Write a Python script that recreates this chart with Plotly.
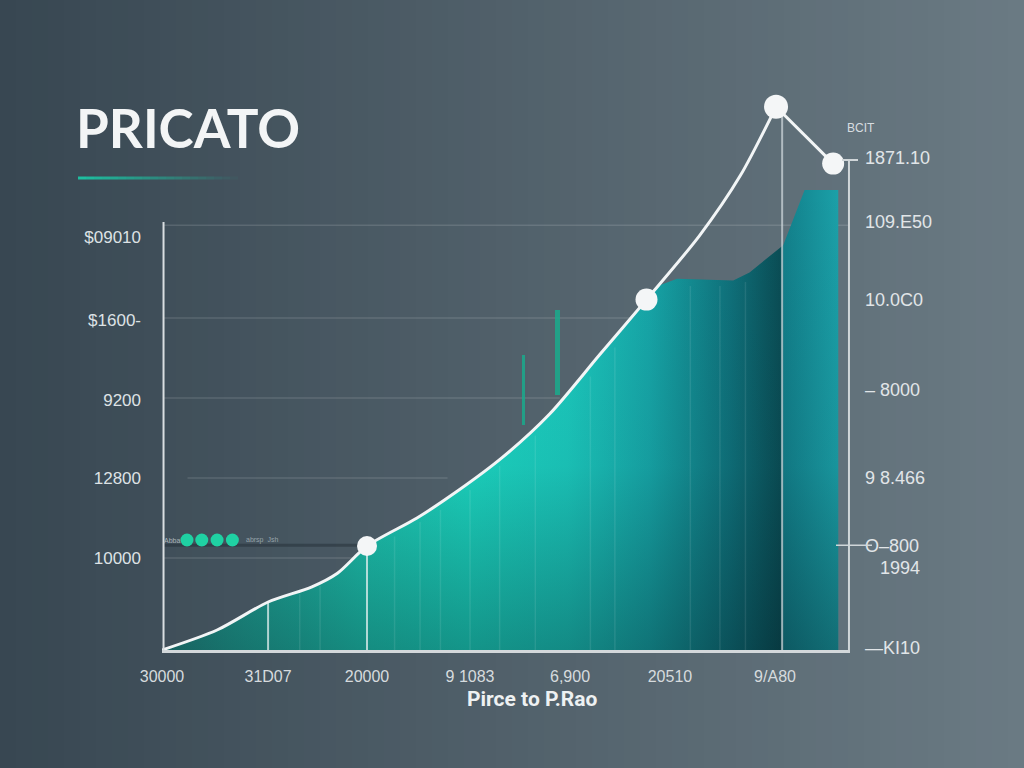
import plotly.graph_objects as go

W, H = 1024, 768
L, R, T, B = 162, 174, 90, 118
PW, PH = W - L - R, H - T - B

# ---------------------------------------------------------------------------
# Data (x: one unit per bottom label step, y: one unit per left label band)
# ---------------------------------------------------------------------------
curve_x = [0, 0.54, 1.04, 1.47, 1.72, 2.01, 2.5, 2.89, 3.34, 3.8, 4.29, 4.75, 5.27, 5.67, 6.02]
curve_y = [0, 0.25, 0.6, 0.79, 0.96, 1.3, 1.65, 1.98, 2.41, 2.95, 3.69, 4.38, 5.18, 5.93, 6.79]
tail_x = [6.02, 6.58]
tail_y = [6.79, 6.08]

dot_x = [2.01, 4.75, 6.02, 6.58]
dot_y = [1.3, 4.38, 6.79, 6.08]

area_x = [0, 0.54, 1.04, 1.47, 1.72, 2.01, 2.5, 2.89, 3.34, 3.8, 4.29, 4.75,
          4.88, 5.05, 5.6, 5.76, 6.09, 6.3, 6.63, 6.63]
area_y = [0, 0.25, 0.6, 0.79, 0.96, 1.3, 1.65, 1.98, 2.41, 2.95, 3.69, 4.38,
          4.56, 4.64, 4.62, 4.72, 5.06, 5.75, 5.75, 0]

stripe_x = [1.35, 1.55, 2.28, 2.53, 2.73, 3.02, 3.31, 3.66, 4.2, 4.44, 5.18, 5.47, 5.72]
stripe_y = [0.7, 0.8, 1.42, 1.6, 1.75, 2.0, 2.3, 2.68, 3.42, 3.78, 4.55, 4.55, 4.6]

accent_x = [3.54, 3.88]
accent_base = [2.81, 3.19]
accent_top = [3.69, 4.25]

side_bar_x = [6.53]
side_bar_y = [5.31]

drop_x = [1.04, 2.01]
drop_y = [0.6, 1.3]

legend_x = [0.245, 0.39, 0.54, 0.69]
legend_y = [1.375, 1.375, 1.375, 1.375]

left_ticks = [5.16, 4.125, 3.125, 2.15, 1.15]
left_labels = ["$09010", "$1600-", "9200", "12800", "10000"]

right_ticks = [6.15, 5.35, 4.375, 3.25, 2.15, 1.31, 1.03, 0.025]
right_labels = ["1871.10", "109.E50", "10.0C0", "\u2013 8000", "9 8.466",
                "O\u2013800", "   1994", "\u2014KI10"]

bottom_ticks = [0, 1.04, 2.01, 3.02, 4.0, 4.98, 6.01]
bottom_labels = ["30000", "31D07", "20000", "9 1083", "6,900", "20510", "9/A80"]

XMAX = PW / 102
YMAX = PH / 80


def px(x):
    """pixel x -> paper x"""
    return (x - L) / PW


def py(y):
    """pixel y -> paper y"""
    return (H - B - y) / PH


def mix(c1, c2, t):
    return "#%02x%02x%02x" % tuple(int(a + (b - a) * t) for a, b in zip(c1, c2))


fig = go.Figure()

# teal area, horizontal colour run
fig.add_trace(go.Scatter(
    x=area_x, y=area_y, mode="lines", fill="tozeroy", line=dict(width=0),
    fillgradient=dict(type="horizontal", colorscale=[
        [0.0, "#248c86"], [0.1, "#22a699"], [0.3, "#1fcfb9"],
        [0.45, "#1ddcc6"], [0.6, "#1cccc0"], [0.72, "#17a8aa"],
        [0.84, "#0f727c"], [0.914, "#0a4e56"], [0.92, "#12808b"],
        [1.0, "#1ba0a8"]]),
    hoverinfo="skip", showlegend=False))

# darkening toward the base
fig.add_trace(go.Scatter(
    x=area_x, y=area_y, mode="lines", fill="tozeroy", line=dict(width=0),
    fillgradient=dict(type="vertical", colorscale=[
        [0.0, "rgba(3,22,28,0.36)"], [0.4, "rgba(3,22,28,0.08)"],
        [1.0, "rgba(3,22,28,0)"]]),
    hoverinfo="skip", showlegend=False))

# faint vertical stripes inside the area
sx, sy = [], []
for x, y in zip(stripe_x, stripe_y):
    sx += [x, x, None]
    sy += [0, y, None]
fig.add_trace(go.Scatter(x=sx, y=sy, mode="lines",
                         line=dict(color="rgba(255,255,255,0.09)", width=1.5),
                         hoverinfo="skip", showlegend=False))

fig.add_trace(go.Bar(x=side_bar_x, y=side_bar_y, width=0.19,
                     marker=dict(color="rgba(34,172,176,0.55)", line=dict(width=0)),
                     hoverinfo="skip", showlegend=False))

fig.add_trace(go.Bar(x=accent_x, base=accent_base,
                     y=[t - b for t, b in zip(accent_top, accent_base)],
                     width=[0.03, 0.05],
                     marker=dict(color="rgba(26,170,140,0.85)", line=dict(width=0)),
                     hoverinfo="skip", showlegend=False))

# vertical drop lines
for dx, dy in zip(drop_x, drop_y):
    fig.add_trace(go.Scatter(x=[dx, dx], y=[0, dy], mode="lines",
                             line=dict(color="rgba(230,240,240,0.75)", width=2),
                             hoverinfo="skip", showlegend=False))
fig.add_trace(go.Scatter(x=[6.08, 6.08], y=[0, dot_y[2]], mode="lines",
                         line=dict(color="rgba(205,214,218,0.75)", width=2),
                         hoverinfo="skip", showlegend=False))

fig.add_trace(go.Scatter(x=curve_x, y=curve_y, mode="lines",
                         line=dict(color="#f2f5f6", width=3, shape="spline", smoothing=0.8),
                         hoverinfo="skip", showlegend=False))
fig.add_trace(go.Scatter(x=tail_x, y=tail_y, mode="lines",
                         line=dict(color="#f2f5f6", width=3),
                         hoverinfo="skip", showlegend=False))
fig.add_trace(go.Scatter(x=dot_x, y=dot_y, mode="markers",
                         marker=dict(color="#f4f6f7", size=[20, 22, 24, 22],
                                     opacity=1, line=dict(width=0)),
                         cliponaxis=False, hoverinfo="skip", showlegend=False))

fig.add_trace(go.Scatter(x=legend_x, y=legend_y, mode="markers",
                         marker=dict(color="#1fd1a3", size=13, line=dict(width=0)),
                         hoverinfo="skip", showlegend=False))

# right-hand axis carrier
fig.add_trace(go.Scatter(x=[None], y=[None], yaxis="y2", showlegend=False))

shapes = []
# background gradient
n = 64
c_left, c_right = (0x38, 0x47, 0x52), (0x6b, 0x7b, 0x84)
for i in range(n):
    shapes.append(dict(type="rect", xref="paper", yref="paper", layer="below",
                       x0=px(i * W / n), x1=px((i + 1) * W / n + 1),
                       y0=py(H), y1=py(0), line=dict(width=0),
                       fillcolor=mix(c_left, c_right, (i + 0.5) / n)))

grid = [(5.31, 0.02, XMAX), (4.15, 0.02, 4.7), (3.15, 0.02, 3.9),
        (2.15, 0.25, 2.8), (1.15, 0.02, 4.3)]
for gy, gx0, gx1 in grid:
    shapes.append(dict(type="line", x0=gx0, x1=gx1, y0=gy, y1=gy, layer="below",
                       line=dict(color="rgba(255,255,255,0.13)", width=1.5)))
shapes.append(dict(type="line", x0=0.02, x1=4.2, y0=1.31, y1=1.31, layer="below",
                   line=dict(color="rgba(20,30,38,0.35)", width=3)))

# left axis line and right frame
shapes.append(dict(type="line", x0=0.015, x1=0.015, y0=0, y1=5.35,
                   line=dict(color="#d9dee1", width=2)))
shapes.append(dict(type="line", x0=6.735, x1=6.735, y0=0, y1=6.125,
                   line=dict(color="#d0d6d9", width=2)))
shapes.append(dict(type="line", xref="paper", x0=px(842), x1=px(858), y0=6.125, y1=6.125,
                   line=dict(color="#d0d6d9", width=2)))
shapes.append(dict(type="line", xref="paper", x0=px(836), x1=px(872), y0=1.31, y1=1.31,
                   line=dict(color="#d0d6d9", width=1.5)))

# teal underline under the title, fading out
segs = 20
for i in range(segs):
    a = 1 - i / segs
    shapes.append(dict(type="line", xref="paper", yref="paper",
                       x0=px(78 + i * 8), x1=px(78 + (i + 1) * 8),
                       y0=py(178), y1=py(178),
                       line=dict(color="rgba(30,190,160,%.2f)" % a, width=3)))

annotations = [
    dict(text="PRICATO", xref="paper", yref="paper", x=px(74), y=py(128),
         xanchor="left", yanchor="middle", showarrow=False,
         font=dict(family="Lato", size=53, color="#f3f5f6", weight=700)),
    dict(text="BCIT", xref="paper", yref="paper", x=px(861), y=py(128),
         xanchor="center", yanchor="middle", showarrow=False,
         font=dict(family="Liberation Sans", size=12, color="#d7dde0")),
    dict(text="Pirce to P.Rao", xref="paper", yref="paper", x=px(532), y=py(699),
         xanchor="center", yanchor="middle", showarrow=False,
         font=dict(family="Roboto", size=21, color="#eef1f2", weight=700)),
    dict(text="Abba", xref="paper", yref="paper", x=px(172), y=py(540),
         xanchor="center", yanchor="middle", showarrow=False,
         font=dict(family="Liberation Sans", size=7, color="#aab4b9")),
    dict(text="abrsp&nbsp;&nbsp;Jsh", xref="paper", yref="paper", x=px(262), y=py(540),
         xanchor="center", yanchor="middle", showarrow=False,
         font=dict(family="Liberation Sans", size=7, color="#97a3a9")),
]

fig.update_layout(
    width=W, height=H,
    margin=dict(l=L, r=R, t=T, b=B, pad=0),
    paper_bgcolor="#384752", plot_bgcolor="rgba(0,0,0,0)",
    barmode="overlay", bargap=0,
    shapes=shapes, annotations=annotations,
    xaxis=dict(range=[0, XMAX], showgrid=False, zeroline=False,
               showline=True, linecolor="#d3d8db", linewidth=3,
               tickvals=bottom_ticks, ticktext=bottom_labels, ticks="",
               ticklabelstandoff=10,
               tickfont=dict(family="Liberation Sans", size=16, color="#d6dbde")),
    yaxis=dict(range=[0, YMAX], showgrid=False, zeroline=False, showline=False,
               tickvals=left_ticks, ticktext=left_labels, ticks="",
               ticklabelstandoff=20,
               tickfont=dict(family="Liberation Sans", size=17, color="#dde2e5")),
    yaxis2=dict(range=[0, YMAX], overlaying="y", side="right", showgrid=False,
                zeroline=False, showline=False, tickvals=right_ticks,
                ticktext=right_labels, ticks="", ticklabelstandoff=14,
                tickfont=dict(family="Liberation Sans", size=18, color="#e1e5e8")),
    showlegend=False,
)

fig.write_html("out.html", config={"displayModeBar": False},
               post_script="document.body.style.margin='0';")
